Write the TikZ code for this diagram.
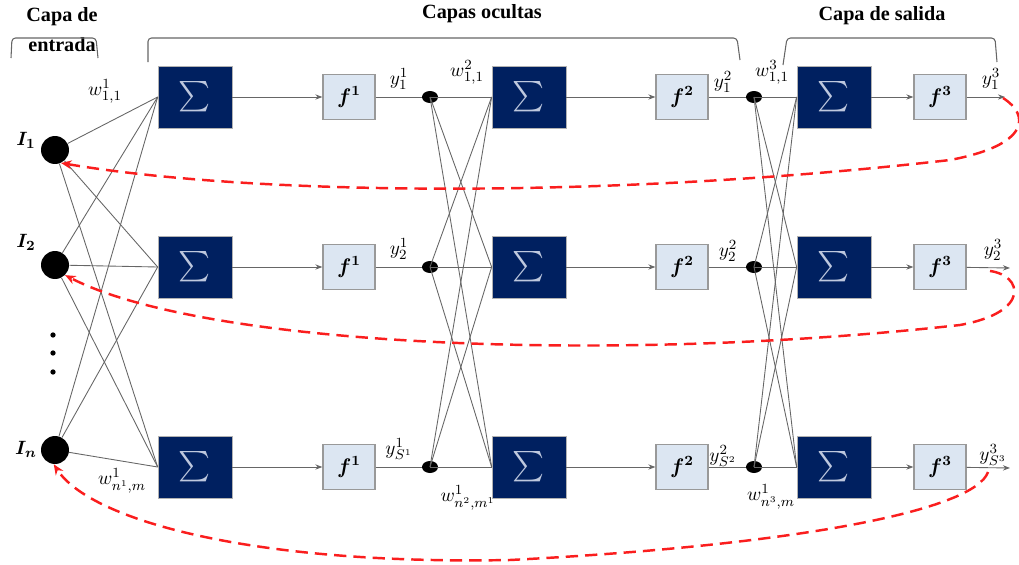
\documentclass[tikz,border=0pt]{standalone}
\usepackage{amsmath,amssymb}
\usepackage{fontspec}
\setmainfont{Liberation Serif}
\usetikzlibrary{arrows.meta,shapes.geometric,positioning}
\definecolor{navy}{RGB}{0,32,96}
\definecolor{sigmacol}{RGB}{190,200,222}
\definecolor{actfill}{RGB}{220,230,242}
\definecolor{fbred}{RGB}{250,30,30}

\begin{document}
\begin{tikzpicture}[x=0.02cm,y=-0.02cm,>=Stealth,
  wire/.style={draw=black!60,line width=0.5pt},
  sumbox/.style={draw=black!30,fill=navy,text=sigmacol,minimum width=1.48cm,minimum height=1.24cm,inner sep=0pt,font=\LARGE},
  actbox/.style={draw=black!40,line width=0.7pt,fill=actfill,minimum width=1.04cm,minimum height=0.9cm,inner sep=0pt,font=\large},
  inode/.style={circle,fill=black,minimum size=0.56cm,inner sep=0pt},
  knot/.style={ellipse,fill=black,minimum width=0.32cm,minimum height=0.24cm,inner sep=0pt},
  vdot/.style={circle,fill=black,minimum size=3pt,inner sep=0pt},
  lbl/.style={font=\fontsize{11}{13}\selectfont,inner sep=1pt},
  head/.style={font=\bfseries\fontsize{11.5}{13}\selectfont,inner sep=1pt},
  bracket/.style={draw=black!60,line width=0.6pt,rounded corners=2pt},
  feedback/.style={draw=fbred,line width=1.4pt,dash pattern=on 7pt off 4pt,-{Stealth[length=6pt,width=5pt]}}]
  \useasboundingbox (0,0) rectangle (1019,565);

  % titles and brackets
  \node[head] (t-in1) at (62,17) {Capa de};
  \node[head] (t-in2) at (62,45) {entrada};
  \node[head] (t-hid) at (482,14) {Capas ocultas};
  \node[head] (t-out) at (882,16) {Capa de salida};
  \draw[bracket] (11,58) -- (12,38) -- (96,38) -- (98,58);
  \draw[bracket] (148,62) -- (148,38) -- (737,38) -- (740,60);
  \draw[bracket] (783,65) -- (787,38) -- (995,38) -- (997,62);

  % inputs
  \node[inode] (in1) at (55,150) {};
  \node[inode] (in2) at (55,265) {};
  \node[inode] (in3) at (55,450) {};
  \node[lbl] (l-in1) at (26,140) {$\boldsymbol{I_1}$};
  \node[lbl] (l-in2) at (26,242) {$\boldsymbol{I_2}$};
  \node[lbl] (l-in3) at (26,449) {$\boldsymbol{I_n}$};
  \foreach \k/\yy in {1/335,2/353,3/372}
    \node[vdot] (vd\k) at (53,\yy) {};

  % layers
  \foreach \r/\yy in {1/97,2/267,3/467} {
    \foreach \l/\xs/\xf in {1/195/349,2/529/682,3/834/940} {
      \node[sumbox] (s\l-\r) at (\xs,\yy) {$\sum$};
      \node[actbox] (f\l-\r) at (\xf,\yy) {$\boldsymbol{f^{\l}}$};
      \draw[wire,-{Stealth[length=4pt,width=3pt]}] (s\l-\r) -- (f\l-\r);
    }
    \node[knot] (d2-\r) at (430,\yy) {};
    \node[knot] (d3-\r) at (754,\yy) {};
    \draw[wire] (f1-\r) -- (d2-\r);
    \draw[wire] (f2-\r) -- (d3-\r);
  }
  \coordinate (o1) at (1005,97);
  \coordinate (o2) at (1010,268);
  \coordinate (o3) at (1010,468);
  \foreach \r in {1,2,3}
    \draw[wire,-{Stealth[length=4pt,width=3pt]}] (f3-\r) -- (o\r);

  % full connections
  \foreach \i in {1,2,3} {
    \foreach \j in {1,2,3} {
      \draw[wire] (in\i) -- (s1-\j.west);
      \draw[wire] (d2-\i.center) -- (s2-\j.west);
      \draw[wire] (d3-\i.center) -- (s3-\j.west);
    }
  }

  % weights and outputs
  \node[lbl] (w1a) at (105,91) {$w^{1}_{1,1}$};
  \node[lbl] (w1b) at (122,481) {$w^{1}_{n^{1},m}$};
  \node[lbl] (w2a) at (467,72) {$w^{2}_{1,1}$};
  \node[lbl] (w2b) at (468,498) {$w^{1}_{n^{2},m^{1}}$};
  \node[lbl] (w3a) at (772,72) {$w^{3}_{1,1}$};
  \node[lbl] (w3b) at (771,497) {$w^{1}_{n^{3},m}$};
  \node[lbl] (y1a) at (399,79) {$y^{1}_{1}$};
  \node[lbl] (y1b) at (399,249) {$y^{1}_{2}$};
  \node[lbl] (y1c) at (399,449) {$y^{1}_{S^{1}}$};
  \node[lbl] (y2a) at (723,82) {$y^{2}_{1}$};
  \node[lbl] (y2b) at (728,251) {$y^{2}_{2}$};
  \node[lbl] (y2c) at (723,456) {$y^{2}_{S^{2}}$};
  \node[lbl] (y3a) at (991,79) {$y^{3}_{1}$};
  \node[lbl] (y3b) at (993,250) {$y^{3}_{2}$};
  \node[lbl] (y3c) at (993,455) {$y^{3}_{S^{3}}$};

  % feedback
  \coordinate (fb1) at (1003,98);
  \coordinate (fb2) at (990,271);
  \coordinate (fb3) at (988,472);
  \draw[feedback] (fb1) .. controls (1030,115) and (1030,145) .. (950,160)
    .. controls (600,200) and (250,195) .. (in1.-65);
  \draw[feedback] (fb2) .. controls (1022,275) and (1032,312) .. (960,325)
    .. controls (600,365) and (200,345) .. (in2.-45);
  \draw[feedback] (fb3) .. controls (975,510) and (800,545) .. (510,560)
    .. controls (250,565) and (90,520) .. (in3.-95);
\end{tikzpicture}
\end{document}
